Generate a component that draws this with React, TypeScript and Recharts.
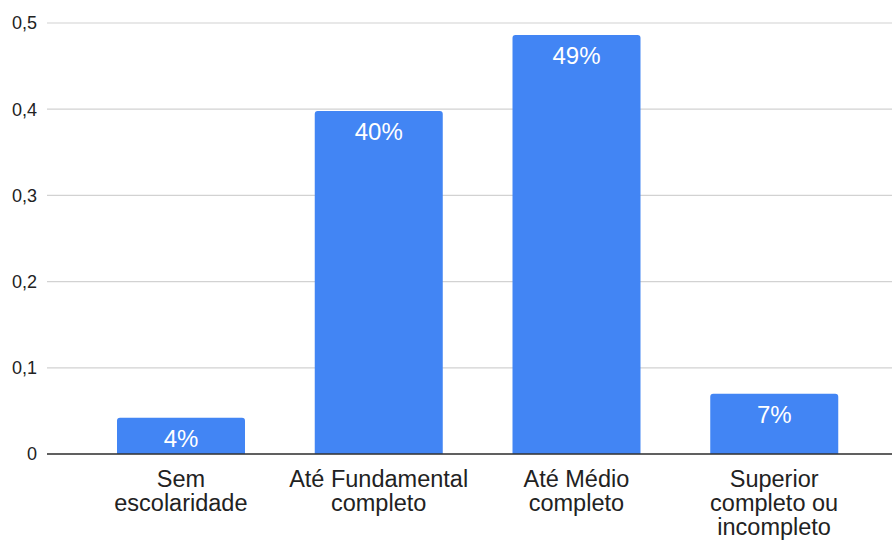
import React from "react";
import { BarChart, Bar, XAxis, YAxis, CartesianGrid, LabelList } from "recharts";

// Share of respondents by education level
const categories = [
  "Sem escolaridade",
  "Até Fundamental completo",
  "Até Médio completo",
  "Superior completo ou incompleto",
];
const shares = [0.042, 0.398, 0.486, 0.07];
const yTicks = [0, 0.1, 0.2, 0.3, 0.4, 0.5];
// Line breaks used for the category labels under the axis
const tickLabelLines = [
  ["Sem", "escolaridade"],
  ["Até Fundamental", "completo"],
  ["Até Médio", "completo"],
  ["Superior", "completo ou", "incompleto"],
];

const data = categories.map((name, i) => ({ name, share: shares[i] }));

const FONT = "'Liberation Sans', Arial, Helvetica, sans-serif";

const formatTick = (v: number) => (v === 0 ? "0" : v.toFixed(1).replace(".", ","));
const formatPct = (v: number) => `${Math.round(v * 100)}%`;

function CategoryTick(props: any) {
  const { x, y, payload } = props;
  const lines = tickLabelLines[payload.index] ?? [String(payload.value)];
  return (
    <g transform={`translate(${x},${y})`}>
      {lines.map((line, i) => (
        <text
          key={i}
          x={0}
          y={32.5 + i * 24.2}
          textAnchor="middle"
          fill="#222"
          fontSize={23.5}
          fontFamily={FONT}
        >
          {line}
        </text>
      ))}
    </g>
  );
}

export default function App() {
  return (
    <div style={{ position: "absolute", left: 0, top: 0, width: 892, height: 540, background: "#fff" }}>
      <BarChart
        width={892}
        height={540}
        data={data}
        margin={{ top: 23, right: 0, bottom: 0, left: 0 }}
      >
        <CartesianGrid vertical={false} stroke="#d2d2d2" strokeWidth={1.2} />
        <XAxis
          dataKey="name"
          height={86}
          padding={{ left: 35, right: 19 }}
          tickLine={false}
          tickSize={0}
          tickMargin={0}
          axisLine={{ stroke: "#333", strokeWidth: 1.6 }}
          tick={<CategoryTick />}
          interval={0}
        />
        <YAxis
          width={47}
          domain={[0, 0.5]}
          ticks={yTicks}
          tickFormatter={formatTick}
          axisLine={false}
          tickLine={false}
          tickSize={0}
          tickMargin={10}
          tick={{ fill: "#222", fontSize: 18, fontFamily: FONT }}
        />
        <Bar dataKey="share" fill="#4285F4" barSize={128} radius={[3, 3, 0, 0]} isAnimationActive={false}>
          <LabelList
            dataKey="share"
            position="insideTop"
            offset={12}
            formatter={formatPct}
            fill="#fff"
            fontSize={24}
            fontFamily={FONT}
          />
        </Bar>
      </BarChart>
    </div>
  );
}
